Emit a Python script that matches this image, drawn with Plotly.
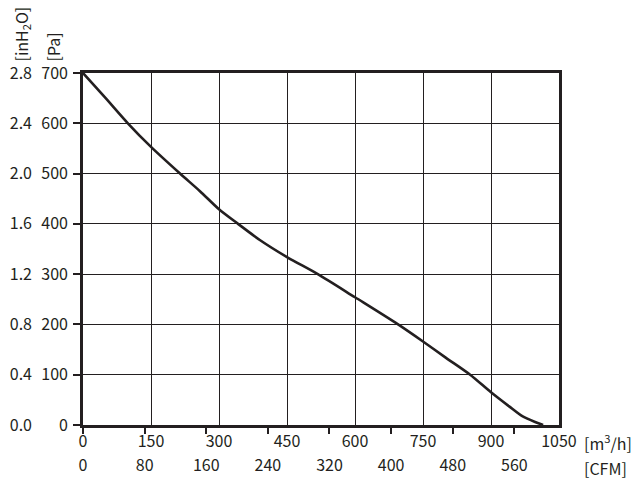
import plotly.graph_objects as go

# Curve data (airflow m3/h vs static pressure Pa)
flow_m3h = [0, 50, 99, 150, 214, 258, 300, 342, 390, 450, 518, 600, 695, 750, 800, 854, 900, 940, 970, 1000, 1015]
pressure_pa = [700, 650, 600, 553, 500, 465, 429, 400, 368, 334, 300, 254, 200, 166, 134, 100, 65, 37, 17, 5, 0]

x_ticks = [0, 150, 300, 450, 600, 750, 900, 1050]
y_ticks = [0, 100, 200, 300, 400, 500, 600, 700]
inh2o_ticks = [0.0, 0.4, 0.8, 1.2, 1.6, 2.0, 2.4, 2.8]
cfm_ticks = [0, 80, 160, 240, 320, 400, 480, 560]

M3H_PER_CFM = 1.699
PA_PER_INH2O = 250.0

ink = "#231f20"
font = dict(family="Noto Sans CJK SC", size=16, color=ink)

fig = go.Figure()
fig.add_trace(go.Scatter(x=flow_m3h, y=pressure_pa, mode="lines",
                         line=dict(color=ink, width=2.6, shape="spline", smoothing=0.8),
                         hoverinfo="skip", showlegend=False))
# invisible traces to activate secondary axes
fig.add_trace(go.Scatter(x=[0], y=[0], xaxis="x2", yaxis="y2", mode="markers",
                         marker=dict(opacity=0), showlegend=False, hoverinfo="skip"))

# page body has an 8px margin, so the figure is sized/offset to compensate
fig.update_layout(
    width=631, height=482,
    margin=dict(l=75, r=80, t=65, b=65, autoexpand=False),
    paper_bgcolor="white", plot_bgcolor="white",
    font=font,
    showlegend=False,
    xaxis=dict(range=[0, 1050], tickvals=x_ticks, ticktext=[str(v) for v in x_ticks],
               showgrid=True, gridcolor=ink, gridwidth=1.3,
               showline=True, linecolor=ink, linewidth=2.6, mirror=True,
               ticks="", zeroline=False, ticklabelstandoff=0, fixedrange=True,
               automargin=False),
    yaxis=dict(range=[0, 700], tickvals=y_ticks, ticktext=[str(v) for v in y_ticks],
               showgrid=True, gridcolor=ink, gridwidth=1.3,
               showline=True, linecolor=ink, linewidth=2.6, mirror=True,
               ticks="outside", ticklen=7, tickwidth=2, tickcolor=ink,
               zeroline=False, ticklabelstandoff=2, fixedrange=True, automargin=False),
    xaxis2=dict(overlaying="x", anchor="y", side="bottom",
                range=[0, 1050 / M3H_PER_CFM], tickvals=cfm_ticks,
                ticktext=[str(v) for v in cfm_ticks],
                showgrid=False, showline=False, zeroline=False,
                ticks="outside", ticklen=8, tickwidth=2, tickcolor=ink,
                ticklabelstandoff=18, fixedrange=True, automargin=False),
    yaxis2=dict(overlaying="y", anchor="x", side="left",
                range=[0, 700 / PA_PER_INH2O], tickvals=inh2o_ticks,
                ticktext=[f"{v:.1f}" for v in inh2o_ticks],
                showgrid=False, showline=False, zeroline=False, ticks="",
                ticklabelstandoff=50, fixedrange=True, automargin=False),
    annotations=[
        dict(text="[m<sup>3</sup>/h]", xref="paper", yref="paper", x=1.0, y=0,
             xshift=23, yshift=-17, xanchor="left", yanchor="middle", showarrow=False, font=font),
        dict(text="[CFM]", xref="paper", yref="paper", x=1.0, y=0,
             xshift=23, yshift=-43, xanchor="left", yanchor="middle", showarrow=False, font=font),
        dict(text="[inH<sub>2</sub>O]", xref="paper", yref="paper", x=0, y=1,
             xshift=-62, yshift=9, xanchor="center", yanchor="bottom", textangle=-90,
             showarrow=False, font=font),
        dict(text="[Pa]", xref="paper", yref="paper", x=0, y=1,
             xshift=-31, yshift=9, xanchor="center", yanchor="bottom", textangle=-90,
             showarrow=False, font=font),
    ],
)

fig.write_html("out.html")
